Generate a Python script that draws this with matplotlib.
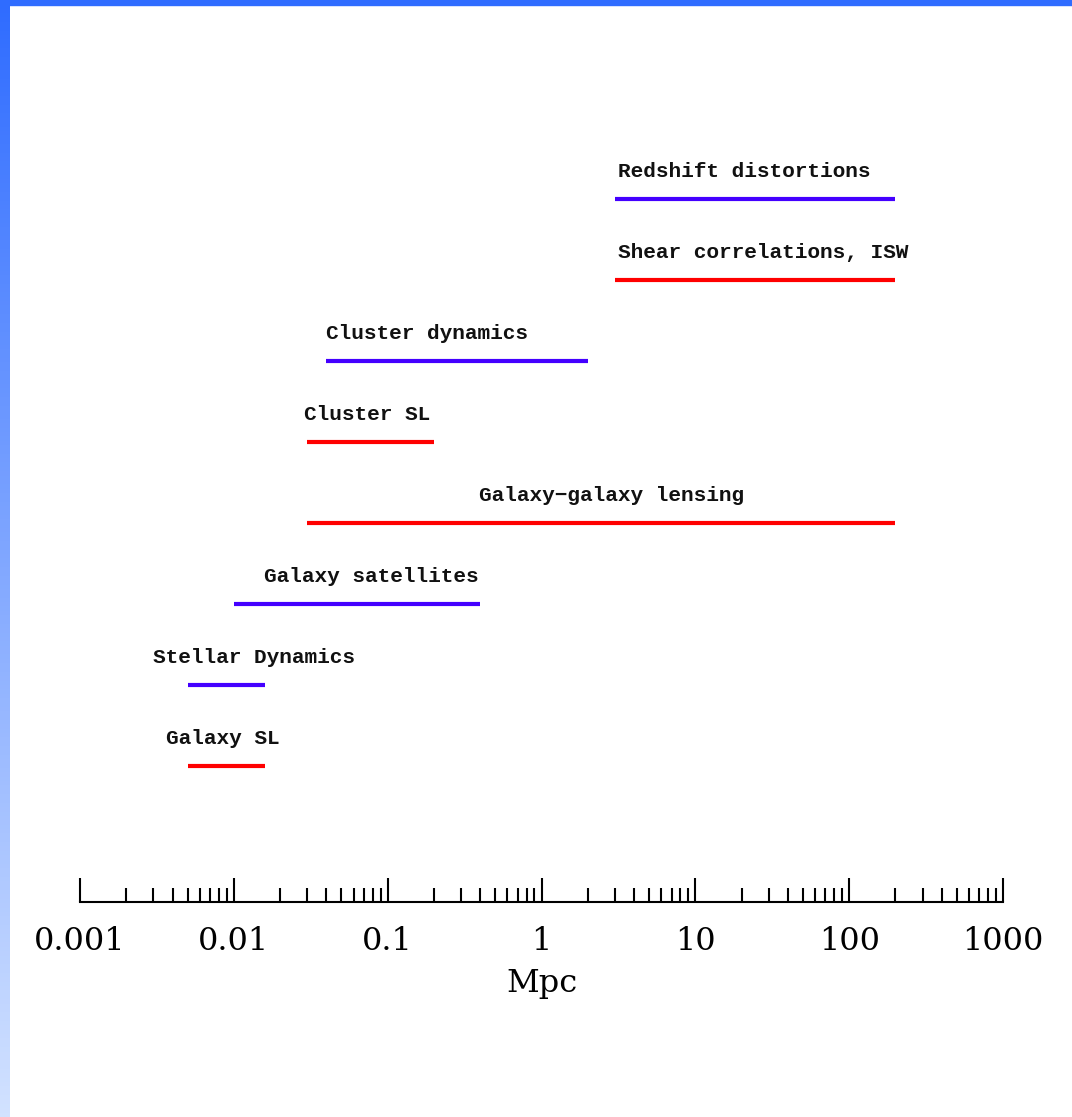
import numpy as np
import matplotlib.pyplot as plt
from matplotlib.patches import Rectangle
from matplotlib.colors import LinearSegmentedColormap
from matplotlib.ticker import LogLocator, FixedFormatter, FixedLocator

# probes, bottom to top
probes = ['Galaxy SL', 'Stellar Dynamics', 'Galaxy satellites', 'Galaxy\u2212galaxy lensing',
          'Cluster SL', 'Cluster dynamics', 'Shear correlations, ISW', 'Redshift distortions']
lo = [0.005, 0.005, 0.01, 0.03, 0.03, 0.04, 3, 3]
hi = [0.016, 0.016, 0.4, 200, 0.2, 2, 200, 200]
colors = ['red', 'blue', 'blue', 'red', 'red', 'blue', 'red', 'blue']
label_x = [0.0036, 0.0030, 0.0158, 0.395, 0.0284, 0.04, 3.12, 3.12]

tick_vals = [0.001, 0.01, 0.1, 1, 10, 100, 1000]
tick_labels = ['0.001', '0.01', '0.1', '1', '10', '100', '1000']

W, H = 1072, 1117
fig = plt.figure(figsize=(W / 100, H / 100), dpi=100)

# blue slide border
grad = fig.add_axes([0, 0, 10 / W, 1])
g = np.linspace(0, 1, 256).reshape(-1, 1)
cm = LinearSegmentedColormap.from_list('b', ['#2f6cff', '#d2e2ff'])
grad.imshow(g, aspect='auto', cmap=cm, extent=[0, 1, 0, 1])
grad.axis('off')
fig.patches.append(Rectangle((0, 1 - 5 / H), 1, 5 / H, transform=fig.transFigure,
                             color='#2f6cff', zorder=5))

ax = fig.add_axes([80 / W, 1 - 902 / H, 923 / W, (902 - 77.5) / H])
ax.set_xscale('log')
ax.set_xlim(0.001, 1000)
ax.set_ylim(-1.679, 8.5)

pal = {'red': '#ff0000', 'blue': '#4400ff'}
for i, name in enumerate(probes):
    ax.plot([lo[i], hi[i]], [i, i], color=pal[colors[i]], lw=3, solid_capstyle='butt')
    ax.text(label_x[i], i + 0.34, name, ha='left', va='center',
            family='Liberation Mono', fontweight='bold', fontsize=15.2, color='#111111')

for s in ['left', 'top', 'right']:
    ax.spines[s].set_visible(False)
ax.spines['bottom'].set_linewidth(1.5)
ax.set_yticks([])
ax.xaxis.set_major_locator(FixedLocator(tick_vals))
ax.xaxis.set_major_formatter(FixedFormatter(tick_labels))
ax.xaxis.set_minor_locator(LogLocator(base=10, subs=np.arange(2, 10)))
ax.xaxis.set_minor_formatter(FixedFormatter([]))
ax.tick_params(axis='x', which='major', direction='in', length=17, width=1.5, pad=17,
               labelsize=23, labelfontfamily='DejaVu Serif')
ax.tick_params(axis='x', which='minor', direction='in', length=10, width=1.5)
ax.set_xlabel('Mpc', family='DejaVu Serif', fontsize=23, labelpad=8)

fig.savefig('out.png', dpi=100)
